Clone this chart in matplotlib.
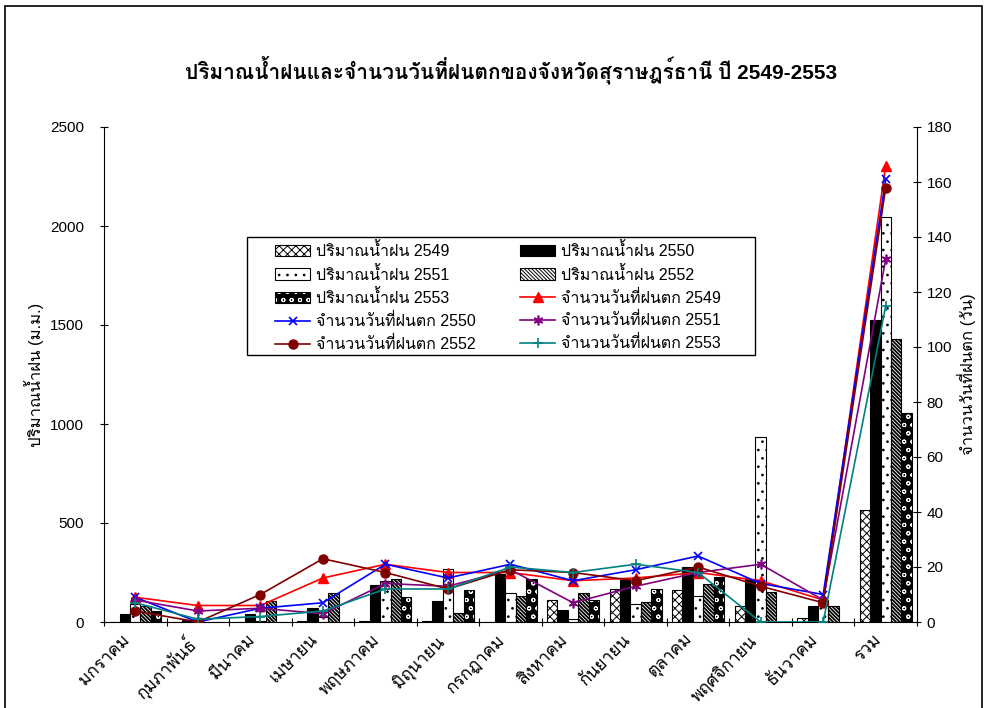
import matplotlib
matplotlib.use("Agg")
import matplotlib.pyplot as plt
from matplotlib import font_manager as fm
from matplotlib.ft2font import FT2Font
from matplotlib.patches import Rectangle
from matplotlib.legend_handler import HandlerTuple
from matplotlib.transforms import ScaledTranslation, blended_transform_factory
import numpy as np

# ---------------- data ----------------
months = ["มกราคม", "กุมภาพันธ์", "มีนาคม", "เมษายน", "พฤษภาคม", "มิถุนายน",
          "กรกฎาคม", "สิงหาคม", "กันยายน", "ตุลาคม", "พฤศจิกายน", "ธันวาคม", "รวม"]

rain_2549 = [0, 0, 0, 5, 5, 5, 0, 113, 168, 163, 80, 22, 568]
rain_2550 = [40, 8, 40, 72, 185, 105, 240, 60, 210, 277, 218, 80, 1525]
rain_2551 = [92, 5, 5, 25, 205, 270, 147, 15, 93, 130, 933, 110, 2047]
rain_2552 = [80, 2, 108, 148, 218, 47, 132, 147, 102, 193, 152, 82, 1428]
rain_2553 = [58, 0, 0, 0, 127, 163, 215, 113, 168, 227, 0, 0, 1056]

days_2549 = [9, 6, 6, 16, 21, 18, 18, 15, 16, 18, 15, 8, 166]
days_2550 = [9, 0, 5, 7, 21, 16, 21, 15, 19, 24, 14, 10, 161]
days_2551 = [8, 4, 5, 3, 14, 13, 19, 7, 13, 18, 21, 8, 132]
days_2552 = [4, 0, 10, 23, 18, 12, 19, 18, 15, 20, 13, 7, 158]
days_2553 = [7, 1, 2, 4, 12, 12, 20, 18, 21, 18, 0, 0, 115]

rain_labels = ["ปริมาณน้ำฝน 2549", "ปริมาณน้ำฝน 2550", "ปริมาณน้ำฝน 2551",
               "ปริมาณน้ำฝน 2552", "ปริมาณน้ำฝน 2553"]
day_labels = ["จำนวนวันที่ฝนตก 2549", "จำนวนวันที่ฝนตก 2550", "จำนวนวันที่ฝนตก 2551",
              "จำนวนวันที่ฝนตก 2552", "จำนวนวันที่ฝนตก 2553"]
title = "ปริมาณน้ำฝนและจำนวนวันที่ฝนตกของจังหวัดสุราษฎร์ธานี ปี 2549-2553"
ylabel_left = "ปริมาณน้ำฝน (ม.ม.)"
ylabel_right = "จำนวนวันที่ฝนตก (วัน)"

# ---------------- fonts ----------------
thai = {}
for f in fm.fontManager.ttflist:
    try:
        if 0x0E01 in FT2Font(f.fname).get_charmap():
            thai.setdefault(f.name, set()).add(str(f.weight))
    except Exception:
        pass
fam = None
for p in ["Loma", "IBM Plex Sans Thai Looped", "Noto Sans Thai Looped", "Noto Sans Thai"]:
    if p in thai and "700" in thai[p]:
        fam = p
        break
if fam is None:
    for p in ["Noto Sans Thai Looped", "Noto Sans Thai"]:
        if p in thai:
            fam = p
            break
families = ["Liberation Sans"] + ([fam] if fam else []) + ["DejaVu Sans"]
plt.rcParams['font.family'] = families
plt.rcParams['hatch.linewidth'] = 0.7

# ---------------- figure ----------------
W, H = 988, 708
fig = plt.figure(figsize=(W / 100, H / 100), dpi=100)
ax = fig.add_axes([104 / W, 1 - 622 / H, (917 - 104) / W, (622 - 127) / H])
ax2 = ax.twinx()

n = len(months)
x = np.arange(n)
bw = 1 / 6
offs = np.array([-2, -1, 0, 1, 2]) * bw

b1 = ax.bar(x + offs[0], rain_2549, bw, facecolor="white", edgecolor="black",
            hatch="xxxx", linewidth=0.8)
b2 = ax.bar(x + offs[1], rain_2550, bw, facecolor="black", edgecolor="black",
            linewidth=0.8)
b3 = ax.bar(x + offs[2], rain_2551, bw, facecolor="white", edgecolor="black",
            hatch="..", linewidth=0.8)
with plt.rc_context({'hatch.linewidth': 1.3}):
    b4 = ax.bar(x + offs[3], rain_2552, bw, facecolor="white", edgecolor="black",
                hatch="\\" * 9, linewidth=0.8)
b5f = ax.bar(x + offs[4], rain_2553, bw, facecolor="black", edgecolor="white",
             hatch="oo", linewidth=0)
b5o = ax.bar(x + offs[4], rain_2553, bw, facecolor="none", edgecolor="black",
             linewidth=0.8)

ax.set_xlim(-0.5, n - 0.5)
ax.set_ylim(0, 2500)
ax.set_yticks(np.arange(0, 2501, 500))
ax2.set_ylim(0, 180)
ax2.set_yticks(np.arange(0, 181, 20))

l1, = ax2.plot(x, days_2549, color="#FF0000", marker="^", ms=7, lw=1.2)
l2, = ax2.plot(x, days_2550, color="#0000FF", marker="x", ms=6, mew=1.2, lw=1.2)
l3, = ax2.plot(x, days_2551, color="#800080", marker=(6, 2, 0), ms=7, mew=1.2, lw=1.2)
l4, = ax2.plot(x, days_2552, color="#800000", marker="o", ms=6.5, lw=1.2)
l5, = ax2.plot(x, days_2553, color="#008080", marker="+", ms=7, mew=1.2, lw=1.2)

for a in (ax, ax2):
    a.spines['top'].set_visible(False)
ax.spines['right'].set_visible(False)
ax2.spines['left'].set_visible(False)
ax2.spines['bottom'].set_visible(False)

# category boundary ticks, labels at category centres
ax.set_xticks(np.arange(-0.5, n, 1.0))
ax.set_xticklabels([])
ax.tick_params(axis="x", which="major", direction="inout", length=6)
lab_tr = blended_transform_factory(ax.transData, ax.transAxes) + \
    ScaledTranslation(-0.13, -0.10, fig.dpi_scale_trans)
for xi, m in zip(x, months):
    ax.text(xi, 0, m, transform=lab_tr, rotation=45, ha="right", va="top",
            rotation_mode="anchor", fontsize=12.5)

ax.tick_params(axis="y", direction="inout", length=6, labelsize=11, pad=11.5)
ax2.tick_params(axis="y", direction="inout", length=6, labelsize=11, pad=4)

ax.set_ylabel(ylabel_left, fontsize=12, labelpad=4)
ax2.set_ylabel(ylabel_right, fontsize=12, rotation=90, labelpad=3)

fig.text(511 / W, 1 - 70 / H, title, ha="center", va="center", fontsize=15,
         fontweight="bold")

handles = [b1, b3, (b5f, b5o), l2, l4, b2, b4, l1, l3, l5]
labels = [rain_labels[0], rain_labels[2], rain_labels[4], day_labels[1], day_labels[3],
          rain_labels[1], rain_labels[3], day_labels[0], day_labels[2], day_labels[4]]
leg = fig.legend(handles, labels, ncol=2, loc="upper left",
                 bbox_to_anchor=(275 / W, 1 - 242 / H), borderaxespad=0,
                 fontsize=11.5, frameon=False,
                 handlelength=2.2, handletextpad=0.35, labelspacing=0.42,
                 columnspacing=2.8, borderpad=0.0,
                 handler_map={tuple: HandlerTuple(ndivide=1)})
fig.patches.append(Rectangle((247 / W, 1 - 355 / H), (755 - 247) / W, (355 - 237) / H,
                             transform=fig.transFigure, fill=False,
                             edgecolor="black", lw=1.0))

fig.patches.append(Rectangle((5 / W, -0.1), (982 - 5) / W, 1.1 - 6 / H,
                             transform=fig.transFigure, fill=False,
                             edgecolor="black", lw=1.2))

fig.savefig("out.png", dpi=100)
